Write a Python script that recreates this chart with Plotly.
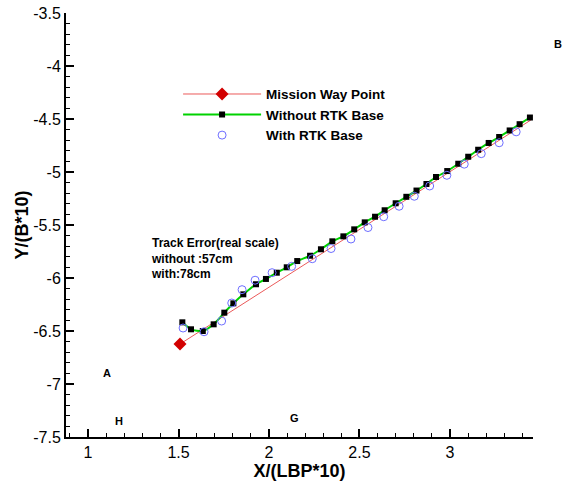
import plotly.graph_objects as go

# Mission way point line (start, end)
way_x = [1.508, 3.447]
way_y = [-6.623, -4.510]

# Without RTK Base
wo_x = [1.521, 1.569, 1.634, 1.694, 1.753, 1.803, 1.858, 1.928, 1.983, 2.043,
        2.098, 2.156, 2.227, 2.287, 2.350, 2.411, 2.471, 2.529, 2.586, 2.639,
        2.700, 2.759, 2.815, 2.870, 2.923, 2.985, 3.046, 3.101, 3.156, 3.214,
        3.272, 3.330, 3.385, 3.442]
wo_y = [-6.418, -6.484, -6.500, -6.437, -6.327, -6.239, -6.154, -6.059, -6.009, -5.950,
        -5.899, -5.840, -5.790, -5.729, -5.654, -5.607, -5.541, -5.475, -5.422, -5.361,
        -5.295, -5.234, -5.175, -5.113, -5.047, -4.991, -4.922, -4.856, -4.790, -4.726,
        -4.670, -4.608, -4.549, -4.486]

# With RTK Base
w_x = [1.525, 1.641, 1.738, 1.794, 1.851, 1.923, 2.017, 2.125, 2.239, 2.343,
       2.453, 2.547, 2.634, 2.719, 2.803, 2.888, 2.983, 3.079, 3.173, 3.272, 3.366]
w_y = [-6.472, -6.507, -6.406, -6.236, -6.110, -6.021, -5.950, -5.890, -5.818, -5.722,
       -5.632, -5.524, -5.422, -5.323, -5.229, -5.132, -5.031, -4.926, -4.827, -4.724, -4.621]

x_ticks = [1, 1.5, 2, 2.5, 3]
y_ticks = [-7.5, -7, -6.5, -6, -5.5, -5, -4.5, -4, -3.5]

# Text labels placed in data coordinates
note_x = [1.335, 1.07, 1.135, 2.105]
note_y = [-5.585, -6.90, -7.35, -7.32]
note_t = ["Track Error(real scale)<br>without :57cm<br>with:78cm", "A", "H", "G"]
note_s = [12, 11, 11, 11]

FONT = "Liberation Sans, Arial, sans-serif"
RED = "rgb(235,90,90)"

fig = go.Figure()
fig.add_trace(go.Scatter(x=way_x, y=way_y, mode="lines", showlegend=False,
                         line=dict(color=RED, width=1), hoverinfo="skip"))
fig.add_trace(go.Scatter(x=way_x[:1], y=way_y[:1], mode="lines+markers",
                         name="<b>Mission Way Point</b>",
                         line=dict(color=RED, width=1),
                         marker=dict(symbol="diamond", size=10, color="rgb(210,0,0)")))
fig.add_trace(go.Scatter(x=wo_x, y=wo_y, mode="lines+markers", name="<b>Without RTK Base</b>",
                         line=dict(color="rgb(0,210,0)", width=2, shape="spline", smoothing=0.6),
                         marker=dict(symbol="square", size=6, color="black")))
fig.add_trace(go.Scatter(x=w_x, y=w_y, mode="markers", name="<b>With RTK Base</b>",
                         marker=dict(symbol="circle-open", size=8, color="rgb(110,110,255)",
                                     line=dict(width=1, color="rgb(110,110,255)"))))

for nx, ny, t, s in zip(note_x, note_y, note_t, note_s):
    multi = "<br>" in t
    fig.add_annotation(x=nx, y=ny, xref="x", yref="y",
                       xanchor="left", yanchor="top" if multi else "middle",
                       text=f"<b>{t}</b>", showarrow=False, align="left",
                       font=dict(family=FONT, size=s, color="black"))
# label "B" sits outside the axis range, placed relative to the plot area
fig.add_annotation(x=1.04, y=0.927, xref="paper", yref="paper", xanchor="left",
                   yanchor="middle", text="<b>B</b>", showarrow=False,
                   font=dict(family=FONT, size=11, color="black"))

axis_common = dict(showgrid=False, zeroline=False, showline=True, linecolor="black",
                   linewidth=2, ticks="inside", ticklen=8, tickwidth=2, tickcolor="black",
                   automargin=False,
                   tickfont=dict(family=FONT, size=16, color="black"),
                   minor=dict(ticks="inside", ticklen=4, tickwidth=1, tickcolor="black", dtick=0.1))

fig.update_xaxes(range=[0.878, 3.459], tickvals=x_ticks,
                 ticktext=[f"{v:g}" for v in x_ticks],
                 title=dict(text="<b>X/(LBP*10)</b>", font=dict(family=FONT, size=18, color="black"),
                            standoff=0),
                 **axis_common)
fig.update_yaxes(range=[-7.5, -3.5], tickvals=y_ticks,
                 ticktext=[f"{v:g}" for v in y_ticks],
                 title=dict(text="<b>Y/(B*10)</b>", font=dict(family=FONT, size=18, color="black"),
                            standoff=0),
                 **axis_common)

fig.update_layout(
    width=567, height=481,
    margin=dict(l=66, r=34, t=13, b=44),
    plot_bgcolor="white", paper_bgcolor="white",
    font=dict(family=FONT, color="black"),
    legend=dict(x=0.24, y=0.845, xanchor="left", yanchor="top",
                bgcolor="rgba(0,0,0,0)", itemwidth=78,
                font=dict(family=FONT, size=13.5, color="black"),
                tracegroupgap=0),
    showlegend=True,
)

fig.write_html("out.html")
